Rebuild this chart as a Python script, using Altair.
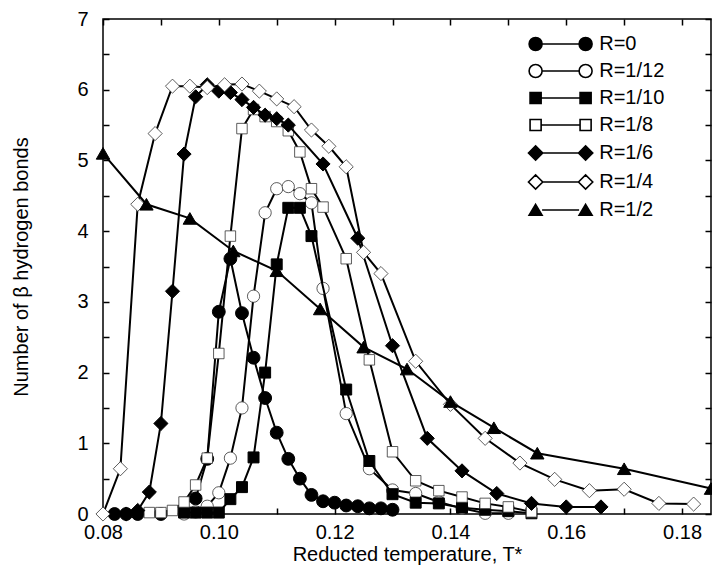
import altair as alt
import pandas as pd

SERIES = ["R=0", "R=1/12", "R=1/10", "R=1/8", "R=1/6", "R=1/4", "R=1/2"]

T_R0 = [0.082, 0.084, 0.086, 0.090, 0.096, 0.098, 0.100, 0.102, 0.104, 0.106, 0.108,
        0.110, 0.112, 0.114, 0.116, 0.118, 0.120, 0.122, 0.124, 0.126, 0.128, 0.130]
N_R0 = [0.0, 0.0, 0.0, 0.0, 0.22, 0.78, 2.86, 3.61, 2.84, 2.21, 1.64,
        1.15, 0.78, 0.50, 0.27, 0.18, 0.16, 0.12, 0.11, 0.08, 0.08, 0.06]

T_R12 = [0.094, 0.096, 0.098, 0.100, 0.102, 0.104, 0.106, 0.108, 0.110, 0.112, 0.114,
         0.116, 0.118, 0.122, 0.126, 0.130, 0.134, 0.138, 0.142, 0.146, 0.150]
N_R12 = [0.0, 0.03, 0.11, 0.30, 0.79, 1.50, 3.08, 4.26, 4.60, 4.63, 4.53,
         4.40, 3.19, 1.42, 0.64, 0.34, 0.29, 0.17, 0.08, 0.01, 0.01]

T_R10 = [0.094, 0.096, 0.098, 0.100, 0.102, 0.104, 0.106, 0.108, 0.110, 0.112, 0.114,
         0.116, 0.122, 0.126, 0.130, 0.134, 0.138, 0.142, 0.146, 0.150, 0.154]
N_R10 = [0.02, 0.02, 0.02, 0.02, 0.21, 0.38, 0.80, 2.00, 3.53, 4.33, 4.33,
         3.93, 1.76, 0.75, 0.28, 0.16, 0.15, 0.09, 0.06, 0.04, 0.01]

T_R8 = [0.088, 0.090, 0.092, 0.094, 0.096, 0.098, 0.100, 0.102, 0.104, 0.106, 0.108,
        0.110, 0.112, 0.114, 0.116, 0.118, 0.122, 0.126, 0.130, 0.134, 0.138, 0.142,
        0.146, 0.150, 0.154]
N_R8 = [0.02, 0.02, 0.05, 0.17, 0.41, 0.79, 2.27, 3.93, 5.45, 5.72, 5.62,
        5.55, 5.42, 5.12, 4.60, 4.34, 3.61, 2.18, 0.88, 0.47, 0.33, 0.24,
        0.15, 0.10, 0.03]

T_R6 = [0.084, 0.086, 0.088, 0.090, 0.092, 0.094, 0.096, 0.098, 0.100, 0.102, 0.104,
        0.106, 0.108, 0.110, 0.112, 0.118, 0.124, 0.130, 0.136, 0.142, 0.148, 0.154,
        0.160, 0.166]
N_R6 = [0.0, 0.05, 0.31, 1.28, 3.15, 5.09, 5.90, 6.07, 5.98, 5.96, 5.86,
        5.75, 5.64, 5.59, 5.50, 4.95, 3.90, 2.38, 1.07, 0.61, 0.29, 0.15,
        0.10, 0.10]

T_R4 = [0.080, 0.083, 0.086, 0.089, 0.092, 0.095, 0.098, 0.101, 0.104, 0.107, 0.110,
        0.113, 0.116, 0.119, 0.122, 0.125, 0.128, 0.134, 0.140, 0.146, 0.152, 0.158,
        0.164, 0.170, 0.176, 0.182]
N_R4 = [0.0, 0.64, 4.38, 5.38, 6.05, 6.05, 6.03, 6.07, 6.08, 5.98, 5.87,
        5.76, 5.43, 5.20, 4.91, 3.70, 3.40, 2.16, 1.55, 1.07, 0.72, 0.49,
        0.33, 0.35, 0.15, 0.14]

T_R2 = [0.080, 0.0875, 0.095, 0.1025, 0.110, 0.1175, 0.125, 0.1325, 0.140, 0.1475,
        0.155, 0.170, 0.185]
N_R2 = [5.10, 4.38, 4.18, 3.72, 3.44, 2.90, 2.36, 2.05, 1.59, 1.22,
        0.86, 0.64, 0.36]

X_TICKS = [0.08, 0.09, 0.10, 0.11, 0.12, 0.13, 0.14, 0.15, 0.16, 0.17, 0.18]
Y_TICKS = [0, 0.5, 1, 1.5, 2, 2.5, 3, 3.5, 4, 4.5, 5, 5.5, 6, 6.5, 7]

TS = [T_R0, T_R12, T_R10, T_R8, T_R6, T_R4, T_R2]
NS = [N_R0, N_R12, N_R10, N_R8, N_R6, N_R4, N_R2]

SHAPES = ["circle", "circle", "square", "square", "diamond", "diamond", "triangle-up"]
FILLS = ["black", "white", "black", "white", "black", "white", "black"]
SIZES = [165, 150, 120, 110, 200, 200, 180]

rows = []
for name, ts, ns in zip(SERIES, TS, NS):
    for t, n in zip(ts, ns):
        rows.append({"series": name, "T": t, "N": n})
df = pd.DataFrame(rows)

FONT = "Liberation Sans"

# ---- legend symbols: marker - line - marker, as custom symbol paths ----
U = 6.5            # px per path unit (sqrt(symbolSize)/2)
D = -50.0 / U      # offset of the left marker


def f(v):
    return f"{v:.3f}"


def circle(cx, r):
    k = 0.5523 * r
    return (f"M{f(cx + r)},0C{f(cx + r)},{f(k)} {f(cx + k)},{f(r)} {f(cx)},{f(r)}"
            f"C{f(cx - k)},{f(r)} {f(cx - r)},{f(k)} {f(cx - r)},0"
            f"C{f(cx - r)},{f(-k)} {f(cx - k)},{f(-r)} {f(cx)},{f(-r)}"
            f"C{f(cx + k)},{f(-r)} {f(cx + r)},{f(-k)} {f(cx + r)},0Z")


def square(cx, h):
    return f"M{f(cx - h)},{f(-h)}L{f(cx + h)},{f(-h)}L{f(cx + h)},{f(h)}L{f(cx - h)},{f(h)}Z"


def diamond(cx, h):
    return f"M{f(cx - h)},0L{f(cx)},{f(-h)}L{f(cx + h)},0L{f(cx)},{f(h)}Z"


def triangle(cx, h):
    return f"M{f(cx)},{f(-0.87 * h)}L{f(cx + h)},{f(0.8 * h)}L{f(cx - h)},{f(0.8 * h)}Z"


def legend_path(kind, h):
    fn = {"circle": circle, "square": square, "diamond": diamond, "triangle-up": triangle}[kind]
    return fn(D, h) + fn(0, h) + f"M{f(D + h)},0L{f(-h)},0"


LEG_H = {"circle": 1.0, "square": 0.85, "diamond": 1.1, "triangle-up": 1.0}
LEGEND_PATHS = [legend_path(s, LEG_H[s]) for s in SHAPES]

xscale = alt.Scale(domain=[0.08, 0.185], nice=False, zero=False)
yscale = alt.Scale(domain=[0, 7], nice=False, zero=False)

common_axis = dict(tickSize=6, offset=-6, domain=False, grid=False, tickColor="black",
                   tickWidth=1.5, labelFont=FONT, labelFontSize=20, labelColor="black",
                   titleFont=FONT, titleFontSize=20, titleFontWeight="normal",
                   titleColor="black", labelFlush=False, labelOverlap=False)

base = alt.Chart()

axis_main = base.mark_point(opacity=0).encode(
    x=alt.X("T:Q", scale=xscale, axis=alt.Axis(
        orient="bottom", values=X_TICKS, format=".2f",
        labelExpr="round(datum.value*100) % 2 == 0 ? datum.label : ''",
        labelPadding=8, title="Reducted temperature, T*", titlePadding=2, **common_axis)),
    y=alt.Y("N:Q", scale=yscale, axis=alt.Axis(
        orient="left", values=Y_TICKS, format=".0f",
        labelExpr="datum.value % 1 == 0 ? datum.label : ''",
        labelPadding=15, title="Number of β hydrogen bonds", titlePadding=45, **common_axis)),
)

axis_mirror = base.mark_point(opacity=0).encode(
    x=alt.X("T:Q", scale=xscale, axis=alt.Axis(
        orient="top", values=X_TICKS, labels=False, title=None, **common_axis)),
    y=alt.Y("N:Q", scale=yscale, axis=alt.Axis(
        orient="right", values=Y_TICKS, labels=False, title=None, **common_axis)),
)

layers = [axis_main, axis_mirror]
for name, shape, fill, size in zip(SERIES, SHAPES, FILLS, SIZES):
    sel = base.transform_filter(alt.datum.series == name)
    line = sel.mark_line(stroke="black", strokeWidth=2).encode(
        x=alt.X("T:Q", scale=xscale, axis=None),
        y=alt.Y("N:Q", scale=yscale, axis=None),
        order="T:Q",
    )
    hollow = fill == "white"
    pts = sel.mark_point(shape=shape, size=size, filled=True, fill=fill,
                         stroke="#333333" if hollow else "black",
                         strokeWidth=0.8 if hollow else 1, opacity=1).encode(
        x=alt.X("T:Q", scale=xscale, axis=None),
        y=alt.Y("N:Q", scale=yscale, axis=None),
    )
    layers += [line, pts]


def make_legend():
    return alt.Legend(orient="none", legendX=472.6, legendY=15, title=None,
                      symbolSize=169, symbolStrokeWidth=1.6, symbolOpacity=1,
                      labelFont=FONT, labelFontSize=20, labelColor="black",
                      labelOffset=3.6, rowPadding=7, padding=0, labelLimit=0)


legend_layer = base.mark_point(opacity=0).encode(
    x=alt.X("T:Q", scale=xscale, axis=None),
    y=alt.Y("N:Q", scale=yscale, axis=None),
    shape=alt.Shape("series:N", scale=alt.Scale(domain=SERIES, range=LEGEND_PATHS),
                    legend=make_legend()),
    fill=alt.Fill("series:N", scale=alt.Scale(domain=SERIES, range=FILLS),
                  legend=make_legend()),
    stroke=alt.Stroke("series:N", scale=alt.Scale(domain=SERIES, range=["black"] * 7),
                      legend=make_legend()),
)
layers.append(legend_layer)

chart = alt.layer(*layers, data=df).resolve_axis(
    x="independent", y="independent"
).properties(
    width=608, height=495,
    padding={"left": 95, "top": 11, "right": 1, "bottom": 52},
    autosize="none",
    background="white",
).configure_view(stroke="black", strokeWidth=1.5)

chart.save("out.html", embed_options={"renderer": "svg", "actions": False})
